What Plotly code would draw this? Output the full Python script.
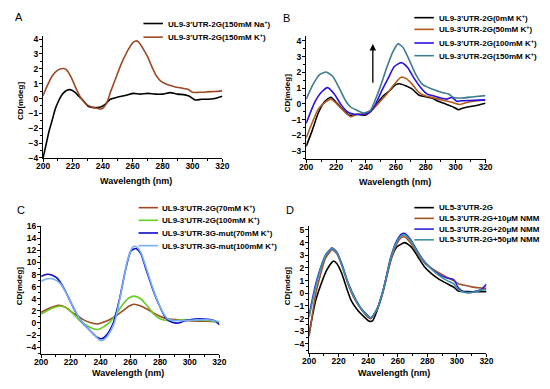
import plotly.graph_objects as go

W, H = 550, 389
FONT = "Arial"

# ---------------- data: panel A ----------------
a_na_wl = [200, 202, 204, 206, 208, 210, 213, 216, 218, 221, 224, 227, 230, 233, 236, 239, 242, 245,
           250, 255, 260, 265, 270, 275, 280, 285, 290, 295, 298, 302, 306, 310, 315, 320]
a_na_cd = [-4.0, -3.1, -2.2, -1.5, -0.75, -0.25, 0.3, 0.56, 0.6, 0.45, 0.15, -0.15, -0.5, -0.6, -0.6, -0.55, -0.35, -0.05,
           0.1, 0.2, 0.35, 0.3, 0.35, 0.3, 0.3, 0.4, 0.3, 0.25, 0.15, -0.1, -0.05, -0.05, 0.0, 0.15]
a_k_wl = [200, 203, 206, 209, 212, 214, 216, 219, 222, 225, 228, 232, 236, 239, 241, 243, 245, 248, 251, 254,
          257, 260, 262, 264, 267, 270, 273, 276, 279, 283, 288, 293, 297, 300, 305, 310, 315, 320]
a_k_cd = [0.2, 0.9, 1.5, 1.85, 2.0, 2.02, 1.9, 1.4, 0.7, 0.1, -0.3, -0.55, -0.65, -0.7, -0.55, -0.2, 0.4, 1.2, 2.0, 2.7,
          3.3, 3.75, 3.88, 3.8, 3.35, 2.8, 2.1, 1.5, 1.15, 0.95, 0.8, 0.7, 0.62, 0.42, 0.42, 0.45, 0.48, 0.52]

# ---------------- data: panel B ----------------
b0_wl = [200, 204, 208, 212, 216.5, 220, 223, 226, 229, 234, 239.5, 243, 247, 251.5, 256, 260, 262.5, 267, 271,
         275.5, 280, 284, 288.5, 293, 297.5, 302, 304, 308, 314, 320]
b0_cd = [-2.7, -1.7, -0.6, 0.1, 0.42, 0.1, -0.2, -0.5, -0.72, -0.66, -0.72, -0.5, -0.04, 0.5, 0.85, 1.22, 1.28, 1.13, 0.93,
         0.55, 0.45, 0.37, 0.16, 0.0, -0.16, -0.37, -0.3, -0.2, -0.1, 0.04]
b50_wl = [200, 204, 208, 212, 216.5, 220, 223, 227.5, 229.7, 234, 239.5, 244, 249, 254, 258, 263.5, 267, 271, 275.5,
          280, 284, 288.5, 293, 297.5, 303, 308, 314, 320]
b50_cd = [-2.16, -1.2, -0.35, 0.05, 0.3, 0.05, -0.25, -0.66, -0.82, -0.66, -0.66, -0.4, 0.1, 0.62, 1.13, 1.69, 1.6, 1.24, 0.72,
          0.5, 0.41, 0.3, 0.2, 0.1, -0.04, 0.1, 0.2, 0.25]
b100_wl = [200, 205.7, 210, 214.4, 218.8, 223, 227.5, 232, 237, 241.7, 246, 250.5, 255, 259, 263.6, 268, 272, 276.7,
           281, 285.5, 290, 294, 297.5, 300.8, 304, 312, 320]
b100_cd = [-1.24, 0.1, 0.72, 1.03, 0.62, 0.0, -0.5, -0.66, -0.66, -0.58, -0.1, 0.82, 1.65, 2.37, 2.62, 2.3, 1.65, 1.03,
           0.62, 0.5, 0.37, 0.3, 0.41, 0.16, 0.2, 0.22, 0.25]
b150_wl = [200, 204.6, 209, 213.3, 217.7, 222, 226.4, 229.7, 234, 238.5, 243, 246, 249.4, 253.8, 258, 261.4, 264.7, 269,
           273.4, 277.8, 282, 286.5, 291, 295.3, 298.6, 304, 312, 320]
b150_cd = [0.3, 1.24, 1.86, 2.02, 1.75, 1.03, 0.2, -0.2, -0.41, -0.58, -0.41, 0.2, 1.03, 2.27, 3.3, 3.81, 3.6, 2.78,
           1.86, 1.24, 1.03, 0.87, 0.72, 0.62, 0.41, 0.37, 0.45, 0.52]

# ---------------- data: panel C ----------------
c1_wl = [200, 204, 208.6, 212, 216.3, 220.7, 225, 229.6, 234, 238.4, 241.7, 246, 250.5, 255, 259.3, 262.6, 267, 271.5,
         275.9, 280.3, 285.8, 292.4, 299, 307.9, 314.5, 320]
c1_cd = [1.73, 2.27, 2.7, 2.9, 2.6, 1.8, 1.08, 0.38, 0.0, -0.16, 0.1, 0.54, 1.19, 2.0, 2.81, 3.1, 2.81, 2.27,
         1.62, 1.08, 0.65, 0.54, 0.38, 0.3, 0.25, 0.2]
c2_wl = [200, 204, 208.6, 213, 217.4, 221.8, 226, 230.7, 235, 238.4, 241.7, 246, 250.5, 255, 259.3, 262.6, 267, 271.5,
         275.9, 280.3, 285.8, 294.6, 303.5, 312, 320]
c2_cd = [1.46, 2.0, 2.54, 2.8, 2.43, 1.46, 0.38, -0.43, -0.97, -1.08, -0.7, 0.1, 1.46, 3.08, 4.16, 4.43, 4.0, 2.81,
         1.46, 0.65, 0.38, 0.5, 0.5, 0.4, 0.1]
c3_wl = [200, 204, 207.5, 210.8, 215.2, 219.6, 224, 228.5, 232.9, 237.3, 240.6, 243.9, 248.3, 252.7, 257, 260.4, 263.8,
         267, 270.4, 274.8, 279.2, 283.6, 288, 292.4, 296.8, 303.5, 310, 316.7, 320]
c3_cd = [7.7, 8.05, 7.9, 7.4, 5.8, 3.6, 1.46, -0.16, -1.24, -2.3, -2.6, -2.05, -0.16, 3.9, 9.0, 11.9, 12.3,
         11.5, 9.0, 5.8, 3.08, 0.92, 0.1, 0.0, 0.38, 0.65, 0.65, 0.38, -0.3]
c4_wl = [200, 204, 208.6, 213, 217.4, 221.8, 226, 230.7, 235, 239.5, 241.7, 245, 249.4, 253.8, 258.2, 261.5, 263.8, 267,
         271.5, 275.9, 280.3, 284.7, 289, 294.6, 303.5, 312.3, 320]
c4_cd = [6.86, 7.3, 7.24, 6.5, 4.7, 2.54, 0.65, -0.7, -1.8, -2.86, -2.86, -2.05, 0.1, 5.0, 10.4, 12.5, 12.65, 11.7,
         8.5, 5.2, 2.54, 0.76, 0.38, 0.38, 0.5, 0.54, 0.2]

# ---------------- data: panel D ----------------
d_wl = [200, 204.4, 208.8, 212, 215.4, 216.5, 218.7, 222, 225.3, 228.6, 233, 237.4, 240.7, 242.9, 246, 249.5, 252.7,
        256, 259.3, 262.6, 264.8, 269.2, 273.6, 278, 282.4, 286.8, 292.3, 297.8, 301, 307.7, 316.5, 320]
d0_cd = [-3.2, -0.6, 0.95, 1.85, 2.44, 2.55, 2.36, 1.6, 0.44, -0.6, -1.36, -1.88, -2.2, -2.18, -1.36, -0.08, 1.47,
         2.88, 3.65, 3.9, 4.0, 3.65, 2.88, 2.1, 1.6, 1.2, 0.82, 0.49, 0.18, 0.13, 0.13, 0.13]
d_wl2 = [200, 204.4, 207.7, 211, 214.3, 215.4, 218.7, 222, 226.4, 230.8, 235, 239.6, 241.8, 246, 250.5, 255, 259.3,
         262.6, 264.8, 269.2, 273.6, 278, 282.4, 288, 293.4, 297.8, 301, 304.4, 307.7, 312, 316.5, 320]
d10_cd = [-3.4, -0.08, 1.47, 2.75, 3.3, 3.45, 3.14, 2.24, 0.7, -0.46, -1.23, -1.88, -2.0, -1.23, 0.3, 2.5, 3.9,
          4.42, 4.45, 3.9, 3.1, 2.4, 2.0, 1.6, 1.25, 1.0, 0.75, 0.65, 0.57, 0.47, 0.42, 0.39]
d20_cd = [-1.7, 0.7, 2.0, 3.0, 3.47, 3.6, 3.26, 2.36, 0.82, -0.33, -1.16, -1.75, -1.93, -1.23, 0.44, 2.75, 4.16,
          4.68, 4.72, 4.16, 3.26, 2.5, 1.98, 1.47, 1.2, 1.08, 0.44, 0.13, 0.05, 0.13, 0.31, 0.7]
d50_cd = [-1.9, 0.5, 1.9, 2.95, 3.45, 3.55, 3.2, 2.3, 0.78, -0.38, -1.2, -1.8, -1.95, -1.26, 0.4, 2.65, 4.05,
          4.55, 4.6, 4.05, 3.2, 2.45, 1.95, 1.4, 1.0, 0.75, 0.3, 0.08, 0.05, 0.1, 0.25, 0.3]

# ---------------- labels ----------------
a_names = ["UL9-3'UTR-2G(150mM Na<sup>+</sup>)", "UL9-3'UTR-2G(150mM K<sup>+</sup>)"]
b_names = ["UL9-3'UTR-2G(0mM K<sup>+</sup>)", "UL9-3'UTR-2G(50mM K<sup>+</sup>)",
           "UL9-3'UTR-2G(100mM K<sup>+</sup>)", "UL9-3'UTR-2G(150mM K<sup>+</sup>)"]
c_names = ["UL9-3'UTR-2G(70mM K<sup>+</sup>)", "UL9-3'UTR-2G(100mM K<sup>+</sup>)",
           "UL9-3'UTR-3G-mut(70mM K<sup>+</sup>)", "UL9-3'UTR-3G-mut(100mM K<sup>+</sup>)"]
d_names = ["UL5-3'UTR-2G", "UL5-3'UTR-2G+10μM NMM", "UL5-3'UTR-2G+20μM NMM", "UL5-3'UTR-2G+50μM NMM"]
panel_letters = ["A", "B", "C", "D"]
x_title = "Wavelength (nm)"
y_title = "CD[mdeg]"

a_colors = ["#000000", "#9c4a25"]
b_colors = ["#000000", "#b35a1f", "#2a10e0", "#3d7d8c"]
c_colors = ["#9c4a25", "#66cc22", "#0a0ac8", "#78aef5"]
d_colors = ["#000000", "#a0522d", "#2e22d8", "#3f8fa0"]

panels = [
    dict(series=[(a_na_wl, a_na_cd), (a_k_wl, a_k_cd)], names=a_names, colors=a_colors,
         xpx=(37, 221), ypx=(32, 157), yr=[-4, 4.2], dt=1,
         leg=dict(x0=140, x1=160, tx=163, rows=[19, 33]), letter=(12, 12),
         xt=(132, 181), yt=(14, 98)),
    dict(series=[(b0_wl, b0_cd), (b50_wl, b50_cd), (b100_wl, b100_cd), (b150_wl, b150_cd)],
         names=b_names, colors=b_colors,
         xpx=(307, 491), ypx=(32, 158), yr=[-3.5, 4.3], dt=1,
         leg=dict(x0=418, x1=438, tx=441, rows=[13, 25, 39, 52]), letter=(287, 13),
         xt=(398, 182), yt=(288, 90)),
    dict(series=[(c1_wl, c1_cd), (c2_wl, c2_cd), (c3_wl, c3_cd), (c4_wl, c4_cd)],
         names=c_names, colors=c_colors,
         xpx=(35, 218), ypx=(227, 358), yr=[-5.1, 16], dt=2,
         leg=dict(x0=135, x1=155, tx=157, rows=[208, 221, 234, 247]), letter=(14, 210),
         xt=(124, 378), yt=(13, 288)),
    dict(series=[(d_wl, d0_cd), (d_wl2, d10_cd), (d_wl2, d20_cd), (d_wl2, d50_cd)],
         names=d_names, colors=d_colors,
         xpx=(310, 492), ypx=(227, 357), yr=[-4.7, 5.3], dt=1,
         leg=dict(x0=418, x1=438, tx=441, rows=[208, 219, 230, 241]), letter=(290, 210),
         xt=(397, 378), yt=(288, 288)),
]

def px(x):
    return x / W

def py(y):
    return 1 - y / H

fig = go.Figure()
shapes, annotations = [], []
tickf = dict(family=FONT, size=8.5, color="black", weight="bold")
legf = dict(family=FONT, size=8, color="black", weight="bold")
titf = dict(family=FONT, size=9, color="black", weight="bold")
ytitf = dict(family=FONT, size=8, color="black", weight="bold")

for i, p in enumerate(panels):
    n = "" if i == 0 else str(i + 1)
    xa, ya = "x" + n, "y" + n
    for (wl, cd), name, col in zip(p["series"], p["names"], p["colors"]):
        fig.add_trace(go.Scatter(x=wl, y=cd, mode="lines", name=name, xaxis=xa, yaxis=ya,
                                 line=dict(color=col, width=1.6, shape="spline", smoothing=0.6),
                                 showlegend=False, hoverinfo="skip"))
    axis_common = dict(showline=True, linecolor="black", linewidth=1.3, ticks="outside", ticklen=3,
                       tickwidth=1.2, tickcolor="black", showgrid=False, zeroline=False,
                       tickfont=tickf)
    fig.update_layout(**{
        "xaxis" + n: dict(domain=[px(p["xpx"][0]), px(p["xpx"][1])], range=[200, 320], dtick=20,
                          tick0=200, anchor=ya, ticklabelstandoff=-3,
                          minor=dict(ticks="outside", ticklen=2, dtick=10, tickcolor="black"),
                          **axis_common),
        "yaxis" + n: dict(domain=[py(p["ypx"][1]), py(p["ypx"][0])], range=p["yr"], dtick=p["dt"],
                          tick0=0, anchor=xa, ticklabelstandoff=-1,
                          minor=dict(ticks="outside", ticklen=2, dtick=p["dt"] / 2, tickcolor="black"),
                          **axis_common),
    })
    lg = p["leg"]
    for name, col, ry in zip(p["names"], p["colors"], lg["rows"]):
        shapes.append(dict(type="line", xref="paper", yref="paper", x0=px(lg["x0"]), x1=px(lg["x1"]),
                           y0=py(ry), y1=py(ry), line=dict(color=col, width=1.6)))
        annotations.append(dict(text=name, xref="paper", yref="paper", x=px(lg["tx"]), y=py(ry),
                                xanchor="left", yanchor="middle", showarrow=False, font=legf))
    # axis titles
    annotations.append(dict(text=x_title, xref="paper", yref="paper", x=px(p["xt"][0]), y=py(p["xt"][1]),
                            xanchor="center", yanchor="middle", showarrow=False, font=titf))
    annotations.append(dict(text=y_title, xref="paper", yref="paper", x=px(p["yt"][0]), y=py(p["yt"][1]),
                            xanchor="center", yanchor="middle", showarrow=False, font=ytitf, textangle=-90))
    lx, ly = p["letter"]
    annotations.append(dict(text=panel_letters[i], xref="paper", yref="paper", x=px(lx), y=py(ly),
                            xanchor="center", yanchor="middle", showarrow=False,
                            font=dict(family=FONT, size=11, color="black")))

# arrow in panel B (increasing K+)
annotations.append(dict(x=244.6, y=3.8, ax=244.6, ay=1.25, xref="x2", yref="y2", axref="x2", ayref="y2",
                        showarrow=True, arrowhead=2, arrowsize=1, arrowwidth=1.3, arrowcolor="black", text=""))

fig.update_layout(width=W, height=H, margin=dict(l=0, r=0, t=0, b=0), plot_bgcolor="white",
                  paper_bgcolor="white", shapes=shapes, annotations=annotations,
                  font=dict(family=FONT, color="black"), hovermode=False)
fig.write_html("out.html", config={"displayModeBar": False},
               post_script="document.body.style.margin='0';")
